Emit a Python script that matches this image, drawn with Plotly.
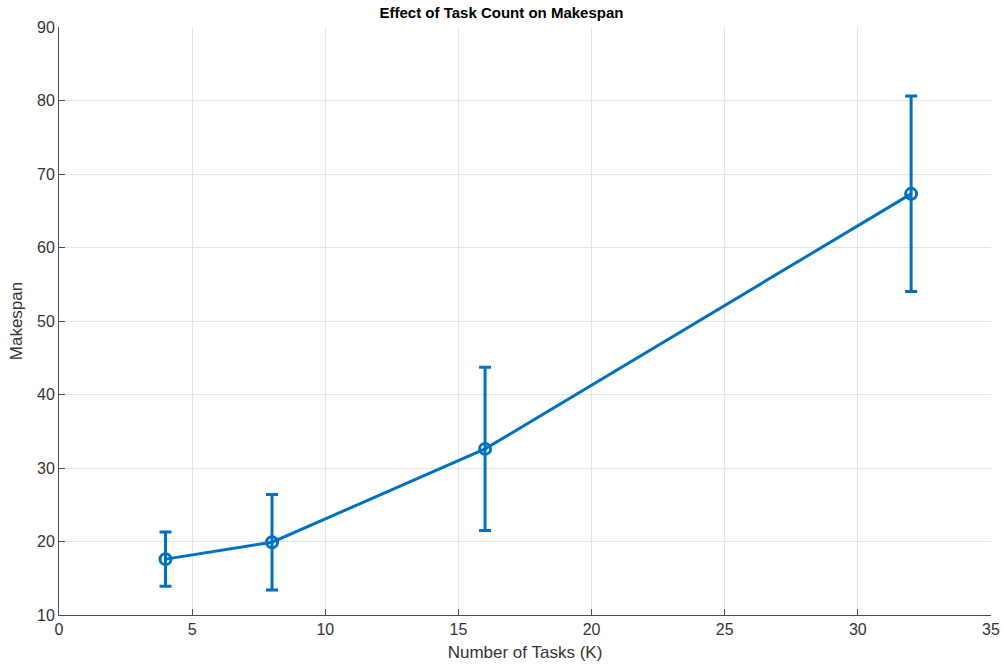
import plotly.graph_objects as go

tasks = [4, 8, 16, 32]
makespan = [17.6, 19.9, 32.6, 67.3]
err = [3.7, 6.5, 11.1, 13.3]

x_ticks = [0, 5, 10, 15, 20, 25, 30, 35]
y_ticks = [10, 20, 30, 40, 50, 60, 70, 80, 90]

color = "#0072BD"
fig = go.Figure()
fig.add_trace(go.Scatter(
    x=tasks, y=makespan,
    mode="lines+markers",
    line=dict(color=color, width=3),
    marker=dict(symbol="circle-open", size=11, color=color, line=dict(width=3, color=color)),
    error_y=dict(type="data", array=err, visible=True, color=color, thickness=3, width=6),
    showlegend=False,
))

font_fam = "Liberation Sans, Arial, sans-serif"
axis_common = dict(
    showgrid=True, gridcolor="#e3e3e3", gridwidth=1,
    showline=True, linecolor="#4d4d4d", linewidth=1,
    ticks="inside", ticklen=6, tickcolor="#4d4d4d", tickwidth=1,
    zeroline=False, mirror=False, automargin=False,
    tickfont=dict(family=font_fam, size=16, color="#333333"),
)
fig.update_layout(
    width=1003, height=671,
    margin=dict(l=58.5, r=12, t=27, b=56),
    paper_bgcolor="white", plot_bgcolor="white",
    title=dict(text="<b>Effect of Task Count on Makespan</b>", x=0.5, xanchor="center",
               y=1 - 13/671, yanchor="middle",
               font=dict(family=font_fam, size=15, color="#000000")),
    xaxis=dict(range=[0, 35], tickvals=x_ticks,
               title=dict(text="Number of Tasks (K)", standoff=8,
                          font=dict(family=font_fam, size=17, color="#333333")),
               **axis_common),
    yaxis=dict(range=[10, 90], tickvals=y_ticks,
               title=dict(text="Makespan", standoff=10,
                          font=dict(family=font_fam, size=17, color="#333333")),
               **axis_common),
)
fig.write_html("out.html")
